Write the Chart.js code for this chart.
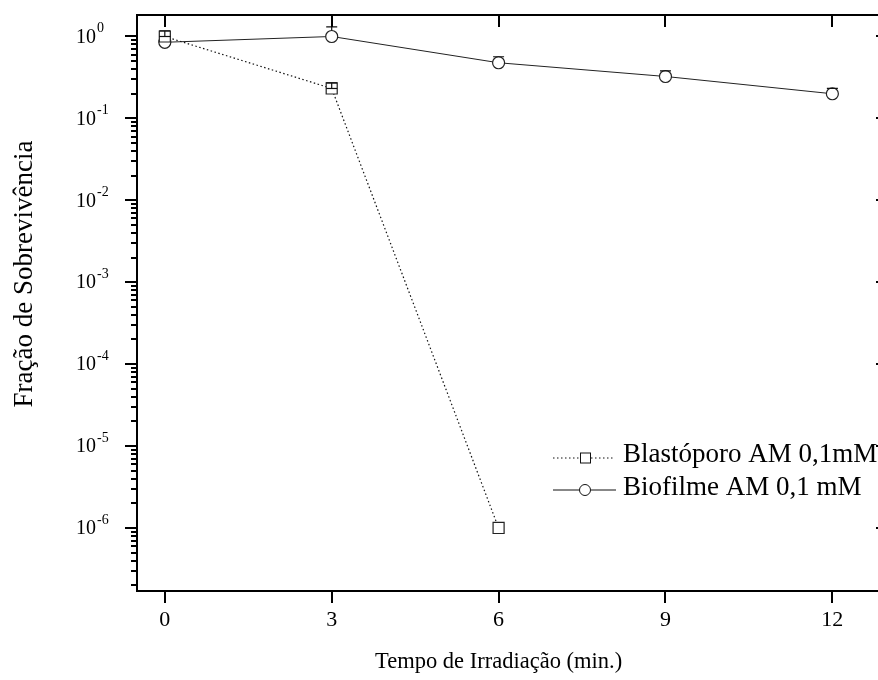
<!DOCTYPE html>
<html>
<head>
<meta charset="utf-8">
<script src="https://cdn.jsdelivr.net/npm/chart.js@4"></script>
<style>
    html, body { margin: 0; padding: 0; background: #fff; }
    #wrap { width: 878px; height: 680px; overflow: hidden; position: relative; }
    #chart { display: block; }
</style>
</head>
<body>
<div id="wrap"><canvas id="chart" width="900" height="680"></canvas></div>
<script>
// tempo de irradiação (min)
const tempos = [0, 3, 6, 9, 12];
const xTicks = [0, 3, 6, 9, 12];
const yDecades = [-6, -5, -4, -3, -2, -1, 0];

// Blastóporo AM 0,1mM
const blastoporo = [1.0, 0.232, 1e-6];
const blastoporoErrUp = [0.17, 0.039, 0];
const blastoporoErrDown = [0, 0, null];

// Biofilme AM 0,1 mM
const biofilme = [0.85, 1.0, 0.478, 0.325, 0.2];
const biofilmeErrUp = [0.15, 0.31, 0.088, 0.055, 0.032];

const labelFont = '"Liberation Serif", "Times New Roman", serif';

document.addEventListener("DOMContentLoaded", () => {

    /* =========================
       FRAME, TICKS, LABELS
    ========================= */
    const framePlugin = {
        id: "frame",
        afterDraw(chart) {
            const ctx = chart.ctx;
            const { left, right, top, bottom } = chart.chartArea;
            const xs = chart.scales.x, ys = chart.scales.y;

            ctx.save();
            ctx.strokeStyle = "#000";
            ctx.fillStyle = "#000";
            ctx.lineWidth = 2;
            ctx.strokeRect(left, top, right - left, bottom - top);

            // x ticks: out at the bottom, in at the top
            ctx.beginPath();
            xTicks.forEach(v => {
                const px = Math.round(xs.getPixelForValue(v));
                ctx.moveTo(px, bottom); ctx.lineTo(px, bottom + 12);
                ctx.moveTo(px, top); ctx.lineTo(px, top + 12);
            });
            ctx.stroke();

            ctx.font = "22px " + labelFont;
            ctx.textAlign = "center";
            ctx.textBaseline = "middle";
            xTicks.forEach(v => ctx.fillText(String(v), xs.getPixelForValue(v), bottom + 29));

            // y ticks, majors + minors per decade
            ctx.beginPath();
            const [lo, hi] = [ys.min, ys.max];
            for (let d = -7; d <= 0; d++) {
                for (let m = 1; m <= 9; m++) {
                    const v = m * Math.pow(10, d);
                    if (v < lo || v > hi) continue;
                    const py = Math.round(ys.getPixelForValue(v));
                    const len = m === 1 ? 12 : 6;
                    ctx.moveTo(left, py); ctx.lineTo(left - len, py);
                    ctx.moveTo(right, py); ctx.lineTo(right - len, py);
                }
            }
            ctx.stroke();

            yDecades.forEach(d => {
                const py = ys.getPixelForValue(Math.pow(10, d));
                ctx.font = "20px " + labelFont;
                ctx.textAlign = "right";
                ctx.textBaseline = "middle";
                ctx.fillText("10", 96, py + 1);
                ctx.font = "14px " + labelFont;
                ctx.textAlign = "left";
                ctx.fillText(String(d), 97, py - 8);
            });

            // axis titles
            ctx.font = "22.5px " + labelFont;
            ctx.textAlign = "center";
            ctx.textBaseline = "middle";
            ctx.fillText("Tempo de Irradiação (min.)", xs.getPixelForValue(6), 662);

            ctx.save();
            ctx.font = "27px " + labelFont;
            ctx.translate(25, 274);
            ctx.rotate(-Math.PI / 2);
            ctx.fillText("Fração de Sobrevivência", 0, 0);
            ctx.restore();

            // legend
            const lx = 553, textX = 623;
            ctx.lineWidth = 1;
            ctx.strokeStyle = "#111";

            let ly = 458;
            ctx.setLineDash([1.5, 2.5]);
            ctx.beginPath();
            ctx.moveTo(lx, ly); ctx.lineTo(579, ly);
            ctx.moveTo(591, ly); ctx.lineTo(614, ly);
            ctx.stroke();
            ctx.setLineDash([]);
            ctx.strokeRect(580.5, ly - 5, 10, 10);

            ly = 490;
            ctx.beginPath();
            ctx.moveTo(lx, ly); ctx.lineTo(579, ly);
            ctx.moveTo(591, ly); ctx.lineTo(616, ly);
            ctx.stroke();
            ctx.beginPath();
            ctx.arc(585, ly, 5.5, 0, Math.PI * 2);
            ctx.stroke();

            ctx.fillStyle = "#000";
            ctx.font = "27px " + labelFont;
            ctx.textAlign = "left";
            ctx.textBaseline = "middle";
            ctx.fillText("Blastóporo AM 0,1mM", textX, 455);
            ctx.fillText("Biofilme AM 0,1 mM", textX, 488);
            ctx.restore();
        }
    };

    /* =========================
       ERROR BARS
    ========================= */
    const errorPlugin = {
        id: "errorBars",
        afterDatasetsDraw(chart) {
            const ctx = chart.ctx;
            const ys = chart.scales.y;
            ctx.save();
            ctx.strokeStyle = "#111";
            ctx.lineWidth = 1.2;
            chart.data.datasets.forEach((ds, i) => {
                const meta = chart.getDatasetMeta(i);
                meta.data.forEach((pt, j) => {
                    const v = ds.data[j].y;
                    const up = ds.errUp[j];
                    const down = ds.errDown ? ds.errDown[j] : null;
                    const cx = pt.x, cy = pt.y;
                    if (up) {
                        const ty = ys.getPixelForValue(v + up);
                        ctx.beginPath();
                        ctx.moveTo(cx, cy - ds.markerHalf);
                        ctx.lineTo(cx, ty);
                        ctx.moveTo(cx - 5.5, ty); ctx.lineTo(cx + 5.5, ty);
                        ctx.stroke();
                    }
                    if (down !== null && down !== undefined) {
                        const by = ys.getPixelForValue(v - down);
                        ctx.beginPath();
                        ctx.moveTo(cx - 5.5, by); ctx.lineTo(cx + 5.5, by);
                        ctx.stroke();
                    }
                });
            });
            ctx.restore();
        }
    };

    /* =========================
       CHART
    ========================= */
    new Chart(document.getElementById("chart"), {
        type: "line",
        data: {
            datasets: [
                {
                    label: "Blastóporo AM 0,1mM",
                    data: blastoporo.map((v, i) => ({ x: tempos[i], y: v })),
                    errUp: blastoporoErrUp,
                    errDown: blastoporoErrDown,
                    markerHalf: 0,
                    borderColor: "#111",
                    borderWidth: 1.2,
                    borderDash: [1.5, 2.5],
                    pointStyle: "rect",
                    pointRadius: 7.8,
                    pointBorderWidth: 1.2,
                    pointBorderColor: "#222",
                    pointBackgroundColor: "#fff",
                    tension: 0
                },
                {
                    label: "Biofilme AM 0,1 mM",
                    data: biofilme.map((v, i) => ({ x: tempos[i], y: v })),
                    errUp: biofilmeErrUp,
                    markerHalf: 6,
                    borderColor: "#222",
                    borderWidth: 1,
                    pointStyle: "circle",
                    pointRadius: 6,
                    pointBorderWidth: 1.2,
                    pointBorderColor: "#222",
                    pointBackgroundColor: "#fff",
                    tension: 0
                }
            ]
        },
        options: {
            responsive: false,
            animation: false,
            devicePixelRatio: 1,
            layout: { padding: { left: 137, right: 12, top: 15, bottom: 89 } },
            plugins: { legend: { display: false }, tooltip: { enabled: false } },
            scales: {
                x: { type: "linear", min: -0.5, max: 13, display: false },
                y: { type: "logarithmic", min: 1.7e-7, max: 1.83, display: false }
            }
        },
        plugins: [errorPlugin, framePlugin]
    });
});
</script>
</body>
</html>
